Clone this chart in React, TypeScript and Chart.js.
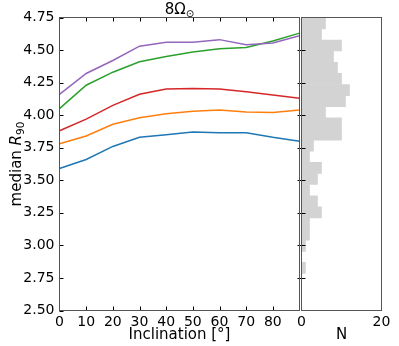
import React, { useEffect, useRef } from "react";
import { Chart, registerables } from "chart.js";

Chart.register(...registerables);

// ---- data ----
const inclination = [0, 10, 20, 30, 40, 50, 60, 70, 80, 90];
const seriesBlue = [3.59, 3.66, 3.76, 3.83, 3.85, 3.87, 3.865, 3.865, 3.83, 3.80];
const seriesOrange = [3.78, 3.84, 3.93, 3.98, 4.01, 4.03, 4.04, 4.025, 4.02, 4.04];
const seriesRed = [3.88, 3.97, 4.075, 4.16, 4.20, 4.205, 4.20, 4.18, 4.155, 4.13];
const seriesGreen = [4.05, 4.23, 4.33, 4.41, 4.45, 4.485, 4.51, 4.52, 4.57, 4.63];
const seriesPurple = [4.16, 4.32, 4.42, 4.53, 4.56, 4.56, 4.58, 4.54, 4.555, 4.61];

const histBinCenters = [
  4.705, 4.62, 4.535, 4.449, 4.364, 4.278, 4.193, 4.108, 4.022, 3.937, 3.851, 3.766,
  3.68, 3.595, 3.51, 3.424, 3.339, 3.254, 3.168, 3.083, 2.997, 2.912, 2.827,
];
const histCounts = [6, 5, 10, 8, 9, 10, 12, 11, 6, 10, 10, 3, 2, 5, 4, 2, 4, 5, 2, 2, 1, 0, 1];

const yTickValues = [2.5, 2.75, 3.0, 3.25, 3.5, 3.75, 4.0, 4.25, 4.5, 4.75];
const xTickValues = [0, 10, 20, 30, 40, 50, 60, 70, 80];

const FONT = "'DejaVu Sans', sans-serif";
const SPINE = "#555555";

const mainDecor = {
  id: "mainDecor",
  afterDatasetsDraw(chart: any) {
    const { ctx, chartArea: a, scales } = chart;
    ctx.save();
    // inward ticks
    ctx.strokeStyle = "#000";
    ctx.lineWidth = 1;
    ctx.beginPath();
    yTickValues.forEach((v) => {
      const y = Math.round(scales.y.getPixelForValue(v)) + 0.5;
      ctx.moveTo(a.left, y);
      ctx.lineTo(a.left + 4, y);
    });
    xTickValues.forEach((v) => {
      if (v === 0) return;
      const x = Math.round(scales.x.getPixelForValue(v)) + 0.5;
      ctx.moveTo(x, a.bottom);
      ctx.lineTo(x, a.bottom - 4);
      ctx.moveTo(x, a.top);
      ctx.lineTo(x, a.top + 4);
    });
    ctx.stroke();
    // frame
    ctx.strokeStyle = SPINE;
    ctx.strokeRect(a.left, a.top, a.right - a.left, a.bottom - a.top);
    // title 8Ω⊙
    const cx = (a.left + a.right) / 2;
    ctx.fillStyle = "#000";
    ctx.textBaseline = "alphabetic";
    ctx.font = `15px ${FONT}`;
    const w1 = ctx.measureText("8Ω").width;
    ctx.font = `10px ${FONT}`;
    const w2 = ctx.measureText("⊙").width;
    const x0 = cx - (w1 + w2) / 2;
    ctx.font = `15px ${FONT}`;
    ctx.fillText("8Ω", x0, 14);
    ctx.font = `10px ${FONT}`;
    ctx.fillText("⊙", x0 + w1, 17);
    // y-axis label: median R_90
    ctx.translate(20.5, (a.top + a.bottom) / 2);
    ctx.rotate(-Math.PI / 2);
    ctx.font = `15px ${FONT}`;
    const p1 = "median ";
    const wa = ctx.measureText(p1).width;
    ctx.font = `italic 15px ${FONT}`;
    const wb = ctx.measureText("R").width;
    ctx.font = `10.5px ${FONT}`;
    const wc = ctx.measureText("90").width;
    const s = -(wa + wb + wc) / 2;
    ctx.font = `15px ${FONT}`;
    ctx.fillText(p1, s, 0);
    ctx.font = `italic 15px ${FONT}`;
    ctx.fillText("R", s + wa, 0);
    ctx.font = `10.5px ${FONT}`;
    ctx.fillText("90", s + wa + wb, 3);
    ctx.restore();
  },
};

const histDecor = {
  id: "histDecor",
  afterDatasetsDraw(chart: any) {
    const { ctx, chartArea: a, scales } = chart;
    ctx.save();
    ctx.strokeStyle = "#000";
    ctx.lineWidth = 1;
    ctx.beginPath();
    yTickValues.forEach((v) => {
      if (v === 2.5 || v === 4.75) return;
      const y = Math.round(scales.y.getPixelForValue(v)) + 0.5;
      ctx.moveTo(a.left - 4, y);
      ctx.lineTo(a.left + 4, y);
    });
    ctx.stroke();
    ctx.strokeStyle = SPINE;
    ctx.strokeRect(a.left, a.top, a.right - a.left, a.bottom - a.top);
    ctx.restore();
  },
};

export default function App() {
  const mainRef = useRef<HTMLCanvasElement>(null);
  const histRef = useRef<HTMLCanvasElement>(null);

  useEffect(() => {
    const colors = ["#1f77b4", "#ff7f0e", "#d62728", "#2ca02c", "#9467bd"];
    const series = [seriesBlue, seriesOrange, seriesRed, seriesGreen, seriesPurple];
    const main = new Chart(mainRef.current!, {
      type: "line",
      data: {
        datasets: series.map((s, i) => ({
          data: s.map((v, j) => ({ x: inclination[j], y: v })),
          borderColor: colors[i],
          borderWidth: 1.5,
          pointRadius: 0,
          fill: false,
          tension: 0,
          order: 5 - i,
        })),
      },
      options: {
        responsive: false,
        animation: false,
        events: [],
        layout: { padding: { top: 17.5, right: 0.5, left: 0, bottom: 0 } },
        plugins: { legend: { display: false }, tooltip: { enabled: false }, title: { display: false } },
        scales: {
          x: {
            type: "linear",
            min: 0,
            max: 90,
            grid: { display: false, drawTicks: false },
            border: { display: false },
            afterBuildTicks: (sc: any) => {
              sc.ticks = xTickValues.map((v) => ({ value: v }));
            },
            ticks: {
              autoSkip: false,
              maxRotation: 0,
              padding: 3.6,
              color: "#000",
              font: { family: FONT, size: 14 },
            },
            title: {
              display: true,
              text: "Inclination [°]",
              color: "#000",
              font: { family: FONT, size: 15 },
              padding: { top: 0, bottom: 2 },
            },
            afterFit: (sc: any) => {
              sc.height = 35.5;
            },
          },
          y: {
            type: "linear",
            min: 2.5,
            max: 4.75,
            grid: { display: false, drawTicks: false },
            border: { display: false },
            afterBuildTicks: (sc: any) => {
              sc.ticks = yTickValues.map((v) => ({ value: v }));
            },
            ticks: {
              autoSkip: false,
              padding: 5,
              color: "#000",
              font: { family: FONT, size: 14 },
              callback: (v: any) => Number(v).toFixed(2),
            },
            afterFit: (sc: any) => {
              sc.width = 59.5;
            },
          },
        },
      },
      plugins: [mainDecor],
    });

    const hist = new Chart(histRef.current!, {
      type: "bar",
      data: {
        datasets: [
          {
            data: histCounts.map((c, i) => ({ x: c, y: histBinCenters[i] })),
            backgroundColor: "#d3d3d3",
            borderWidth: 0,
            barPercentage: 1,
            categoryPercentage: 1,
          },
        ],
      },
      options: {
        indexAxis: "y",
        responsive: false,
        animation: false,
        events: [],
        layout: { padding: { top: 17.5, right: 17.5, left: 11.5, bottom: 0 } },
        plugins: { legend: { display: false }, tooltip: { enabled: false } },
        scales: {
          x: {
            type: "linear",
            min: 0,
            max: 20,
            grid: { display: false, drawTicks: false },
            border: { display: false },
            ticks: {
              stepSize: 20,
              autoSkip: false,
              maxRotation: 0,
              padding: 3.6,
              color: "#000",
              font: { family: FONT, size: 14 },
            },
            title: {
              display: true,
              text: "N",
              color: "#000",
              font: { family: FONT, size: 15 },
              padding: { top: 0, bottom: 2 },
            },
            afterFit: (sc: any) => {
              sc.height = 35.5;
            },
          },
          y: {
            type: "linear",
            min: 2.5,
            max: 4.75,
            offset: false,
            display: false,
          },
        },
      },
      plugins: [histDecor],
    });

    return () => {
      main.destroy();
      hist.destroy();
    };
  }, []);

  return (
    <div style={{ position: "fixed", left: 0, top: 0, width: 399, height: 346, background: "#fff" }}>
      <canvas ref={histRef} width={109} height={346} style={{ position: "absolute", left: 290, top: 0 }} />
      <canvas ref={mainRef} width={300} height={346} style={{ position: "absolute", left: 0, top: 0 }} />
    </div>
  );
}
